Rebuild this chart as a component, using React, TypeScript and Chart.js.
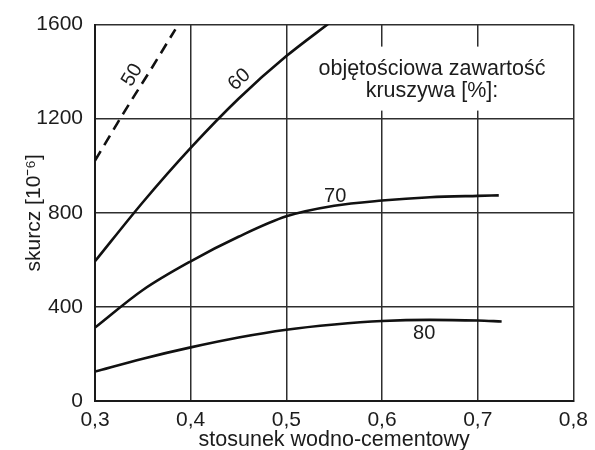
import React, { useEffect, useRef } from 'react';
import { Chart, registerables } from 'chart.js';

Chart.register(...registerables);

// ---- data ----
const X_TICKS = [0.3, 0.4, 0.5, 0.6, 0.7, 0.8];
const Y_TICKS = [0, 400, 800, 1200, 1600];

const SERIES_NAMES = ['50', '60', '70', '80'];

const X_50 = [0.3, 0.33, 0.36, 0.384];
const Y_50 = [1022, 1225, 1420, 1580];

const X_60 = [0.3, 0.35, 0.4, 0.45, 0.5, 0.546];
const Y_60 = [594, 845, 1076, 1285, 1466, 1610];

const X_70 = [0.3, 0.35, 0.4, 0.45, 0.5, 0.55, 0.6, 0.65, 0.7, 0.722];
const Y_70 = [312, 472, 594, 698, 785, 830, 852, 866, 872, 874];

const X_80 = [0.3, 0.35, 0.4, 0.45, 0.5, 0.55, 0.6, 0.65, 0.7, 0.725];
const Y_80 = [125, 180, 228, 270, 303, 325, 340, 345, 342, 338];

const HEADER_LINES = ['objętościowa zawartość', 'kruszywa [%]:'];
const X_TITLE = 'stosunek wodno-cementowy';
const Y_TITLE = 'skurcz [10⁻⁶]';

const FONT = "'Liberation Sans', Arial, Helvetica, sans-serif";
const INK = '#1c1c1c';

const toPoints = (xs: number[], ys: number[]) => xs.map((x, i) => ({ x, y: ys[i] }));

const annotationPlugin = {
  id: 'annotations',
  afterDatasetsDraw(chart: any) {
    const { ctx } = chart;
    const xs = chart.scales.x;
    const ys = chart.scales.y;
    ctx.save();
    ctx.fillStyle = INK;
    ctx.font = `20px ${FONT}`;
    ctx.textAlign = 'center';
    ctx.textBaseline = 'middle';
    // curve labels: [name, x value, y value, rotation deg]
    const labels: [string, number, number, number][] = [
      [SERIES_NAMES[0], 0.339, 1385, -59],
      [SERIES_NAMES[1], 0.451, 1366, -43],
      [SERIES_NAMES[2], 0.551, 868, 0],
      [SERIES_NAMES[3], 0.644, 287, 0],
    ];
    for (const [t, vx, vy, rot] of labels) {
      const px = xs.getPixelForValue(vx);
      const py = ys.getPixelForValue(vy);
      ctx.save();
      ctx.translate(px, py);
      ctx.rotate((rot * Math.PI) / 180);
      ctx.fillText(t, 0, 0);
      ctx.restore();
    }
    // header box
    const area = chart.chartArea;
    const cx = area.left + 337;
    ctx.fillStyle = '#ffffff';
    ctx.fillRect(area.left + 215, area.top + 22, 244, 64);
    ctx.fillStyle = INK;
    ctx.font = `21.5px ${FONT}`;
    ctx.textBaseline = 'alphabetic';
    ctx.fillText(HEADER_LINES[0], cx, area.top + 50);
    ctx.fillText(HEADER_LINES[1], cx, area.top + 72);
    ctx.restore();
  },
};

export default function App() {
  const ref = useRef<HTMLCanvasElement | null>(null);

  useEffect(() => {
    if (!ref.current) return;
    const lineStyle = {
      borderColor: '#111111',
      borderWidth: 2.6,
      pointRadius: 0,
      fill: false,
      cubicInterpolationMode: 'monotone' as const,
    };
    const chart = new Chart(ref.current, {
      type: 'line',
      data: {
        datasets: [
          { label: SERIES_NAMES[0], data: toPoints(X_50, Y_50), ...lineStyle, borderDash: [11, 7] },
          { label: SERIES_NAMES[1], data: toPoints(X_60, Y_60), ...lineStyle },
          { label: SERIES_NAMES[2], data: toPoints(X_70, Y_70), ...lineStyle },
          { label: SERIES_NAMES[3], data: toPoints(X_80, Y_80), ...lineStyle },
        ],
      },
      options: {
        responsive: false,
        animation: false,
        layout: { padding: { top: 16, right: 18, left: 0, bottom: 0 } },
        plugins: { legend: { display: false }, tooltip: { enabled: false } },
        scales: {
          x: {
            type: 'linear',
            min: 0.3,
            max: 0.8,
            afterBuildTicks: (s: any) => {
              s.ticks = X_TICKS.map((v) => ({ value: v }));
            },
            afterFit: (s: any) => {
              s.height = 49;
            },
            grid: { color: '#2e2e2e', lineWidth: 1.5, drawTicks: false },
            border: { display: true, color: '#1a1a1a', width: 2 },
            ticks: {
              color: INK,
              padding: 7,
              font: { family: FONT, size: 21 },
              maxRotation: 0,
              callback: (v: any) => Number(v).toFixed(1).replace('.', ','),
            },
            title: {
              display: true,
              text: X_TITLE,
              color: INK,
              font: { family: FONT, size: 21.5, lineHeight: 0.9 },
              padding: { top: 0, bottom: 0 },
            },
          },
          y: {
            type: 'linear',
            min: 0,
            max: 1600,
            afterBuildTicks: (s: any) => {
              s.ticks = Y_TICKS.map((v) => ({ value: v }));
            },
            afterFit: (s: any) => {
              s.width = 95;
            },
            grid: { color: '#2e2e2e', lineWidth: 1.5, drawTicks: false },
            border: { display: true, color: '#1a1a1a', width: 2 },
            ticks: {
              color: INK,
              padding: 12,
              font: { family: FONT, size: 21 },
              callback: (v: any) => String(v),
            },
            title: {
              display: true,
              text: Y_TITLE,
              color: INK,
              font: { family: FONT, size: 21 },
              padding: { top: 22, bottom: 22 },
            },
          },
        },
      },
      plugins: [annotationPlugin],
    });
    return () => chart.destroy();
  }, []);

  return (
    <div style={{ position: 'absolute', left: 0, top: 0, width: 595, height: 450, background: '#fff' }}>
      <canvas ref={ref} width={595} height={450} />
    </div>
  );
}
